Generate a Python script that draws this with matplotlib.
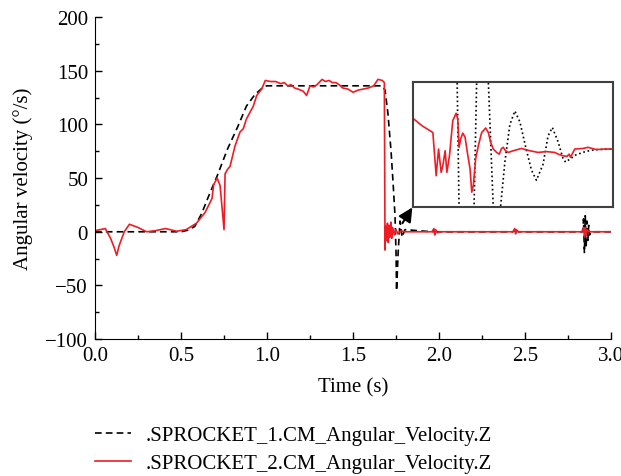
import matplotlib
matplotlib.use("Agg")
from matplotlib import pyplot as plt

plt.rcParams['font.family'] = ['Liberation Serif', 'DejaVu Serif']
plt.rcParams['font.size'] = 15

# SPROCKET_1 (dashed black)
s1_t = [0, 0.5, 0.54, 0.58, 0.62, 0.66, 0.71, 0.77, 0.83, 0.88, 0.93, 0.98, 1.0,
        1.669, 1.686, 1.703, 1.721, 1.733, 1.744, 1.750, 1.753, 1.762, 1.773, 1.785, 1.802,
        1.96, 1.97, 1.975, 1.98, 1.99, 2.43, 2.44, 2.445, 2.45, 2.46,
        2.835, 2.84, 2.845, 2.85, 2.855, 2.86, 2.865, 2.87, 2.875, 2.88, 3.0]
s1_v = [0, 0, 1.5, 5, 17, 33, 52, 77, 98, 117, 128, 135, 136,
        136, 132, 110, 75, 45, 15, -20, -55, -20, 10, -5, 2,
        0, 2, -2, 1, 0, 0, 2, -2, 1, 0,
        0, 12, -20, 15, -14, 10, -8, 6, -3, 0, 0]

# SPROCKET_2 (solid red)
s2_t = [0.0, 0.03, 0.06, 0.09, 0.11, 0.126, 0.14, 0.17, 0.20, 0.25, 0.30, 0.35, 0.41,
        0.475, 0.53, 0.59, 0.64, 0.68, 0.69, 0.71, 0.727, 0.74, 0.75, 0.756, 0.77,
        0.785, 0.814, 0.843, 0.862, 0.88, 0.92, 0.94, 0.969, 0.99, 1.02, 1.05, 1.08,
        1.10, 1.12, 1.14, 1.16, 1.18, 1.21, 1.23, 1.25, 1.27, 1.29, 1.32, 1.34, 1.36,
        1.38, 1.40, 1.42, 1.44, 1.47, 1.50, 1.53, 1.56, 1.59, 1.62, 1.645,
        1.67, 1.682, 1.686, 1.69, 1.695, 1.70, 1.705, 1.71, 1.715, 1.72, 1.725, 1.73,
        1.74, 1.75, 1.76, 1.78, 1.80, 1.96, 1.97, 1.975, 1.98, 1.99, 2.00,
        2.43, 2.44, 2.445, 2.45, 2.46, 2.83, 2.84, 2.845, 2.85, 2.855, 2.86, 2.87, 3.0]
s2_v = [1, 2, 3, -6, -14, -22, -13, 0, 7, 4, 0, 1, 3,
        0.5, 2, 8, 18, 31, 44, 50, 43, 20, 2, 54, 58,
        61, 80, 93, 96, 105, 117, 127, 133, 141, 140, 140, 138,
        139, 136, 137, 134, 133, 131, 127, 136, 135, 137, 142, 140, 141,
        139, 139, 137, 134, 133, 130, 132, 133, 134, 136, 142,
        141, 139, -17, 5, -8, 8, -10, 6, -5, 9, -6, 4,
        -3, 2, -2, 1, 0, 0, 3, -3, 2, -1, 0,
        0, 3, -2, 2, 0, 0, 4, -5, 4, -3, 2, 0, 0]

# zoomed detail shown in the inset
zoom1_t = [1.7172, 1.7242, 1.7261, 1.7298, 1.7338, 1.7388, 1.7411, 1.7437, 1.7471,
           1.7497, 1.7527, 1.7554, 1.7603, 1.7637, 1.7660, 1.7676, 1.7720, 1.7769,
           1.7819, 1.7869, 1.7935, 1.7985, 1.8035, 1.8101, 1.8151, 1.8194, 1.8251,
           1.8301, 1.8327, 1.8367, 1.8433, 1.8533, 1.8633, 1.8799]
zoom1_v = [50, 12, -10, -35, -40, -25, -10, 12, 35, 40, 30, 12, -10, -18, -15, -10,
           -2, 4.5, 6.9, 5, 0, -3.5, -5.3, -2.5, 2.5, 4.0, 1.5, -1.5, -2.1, -1.6,
           -0.8, -0.2, 0.1, 0.2]
zoom2_t = [1.6807, 1.6890, 1.6973, 1.6999, 1.7032, 1.7056, 1.7082, 1.7099, 1.7122,
           1.7139, 1.7165, 1.7198, 1.7232, 1.7248, 1.7261, 1.7278, 1.7298, 1.7321,
           1.7344, 1.7371, 1.7388, 1.7404, 1.7427, 1.7454, 1.7487, 1.7527, 1.7554,
           1.7577, 1.7603, 1.7637, 1.7663, 1.7686, 1.7703, 1.7726, 1.7753, 1.7803,
           1.7886, 1.7969, 1.8052, 1.8135, 1.8218, 1.8252, 1.8302, 1.8341, 1.8361,
           1.8375, 1.8418, 1.8501, 1.8551, 1.8634, 1.8717, 1.8800]
zoom2_v = [5.5, 4.3, 3.4, 3.1, -4.5, 0.2, -3.9, -2.7, -0.1, -3.9, -1.0, 5.2, 6.5,
           5.5, 0.5, 2.0, 3.0, 2.3, -0.4, -3.3, -7.4, -6.2, -1.5, 0.8, 3.1, 3.9, 3.1,
           1.4, 0.2, -0.4, -0.7, 0.3, 0.5, -0.1, -0.4, -0.1, 0.3, -0.1, -0.4, -0.25,
           -0.4, -0.7, -1.0, -1.1, -0.7, -1.25, 0.2, 0.3, 0.5, 0.1, 0.2, 0.2]

red = '#ee1c25'

fig = plt.figure(figsize=(6.21, 4.77), dpi=100)
ax = fig.add_axes([0.153, 0.287, 0.831, 0.675])

ax.plot(s1_t, s1_v, color='black', lw=1.2, linestyle=(0, (4, 2.5)),
        label='.SPROCKET_1.CM_Angular_Velocity.Z')
ax.plot(s2_t, s2_v, color=red, lw=1.2, label='.SPROCKET_2.CM_Angular_Velocity.Z')

ax.set_xlim(0, 3.0)
ax.set_ylim(-100, 200)
ax.set_xticks([0, 0.5, 1.0, 1.5, 2.0, 2.5, 3.0])
ax.set_xticks([0.25, 0.75, 1.25, 1.75, 2.25, 2.75], minor=True)
ax.set_yticks([-100, -50, 0, 50, 100, 150, 200])
ax.set_yticks([-75, -25, 25, 75, 125, 175], minor=True)
ax.xaxis.set_major_formatter(plt.FuncFormatter(lambda v, p: f'{v:.1f}'))
ax.yaxis.set_major_formatter(plt.FuncFormatter(lambda v, p: f'{v:.0f}'.replace('-', '\u2212')))
ax.tick_params(which='major', direction='in', length=5, width=1)
ax.tick_params(which='minor', direction='in', length=3, width=1)
ax.tick_params(axis='x', which='major', pad=5)
ax.tick_params(axis='y', which='major', pad=5)
ax.spines['top'].set_visible(False)
ax.spines['right'].set_visible(False)
ax.set_xlabel('Time (s)', labelpad=9)
ax.set_ylabel('Angular velocity (°/s)', labelpad=9)

# inset
axin = fig.add_axes([0.665, 0.564, 0.322, 0.262])
axin.plot(zoom1_t, zoom1_v, color='black', lw=1.2, linestyle=':')
axin.plot(zoom2_t, zoom2_v, color=red, lw=1.2)
axin.set_xlim(1.68, 1.88)
axin.set_ylim(-10, 12)
axin.set_xticks([])
axin.set_yticks([])
for sp in axin.spines.values():
    sp.set_color('#404040')
    sp.set_linewidth(1.5)

ax.annotate('', xy=(0.664, 0.563), xycoords='figure fraction',
            xytext=(0.648, 0.530), textcoords='figure fraction',
            arrowprops=dict(arrowstyle='-|>,head_length=0.7,head_width=0.35',
                            color='black', lw=1.5, shrinkA=0, shrinkB=0,
                            mutation_scale=12))

h, l = ax.get_legend_handles_labels()
fig.legend(h, l, loc='upper left', bbox_to_anchor=(0.137, 0.127), frameon=False,
           handlelength=1.7, handletextpad=0.7, labelspacing=0.4, borderpad=0,
           fontsize=15)

fig.savefig('out.png', dpi=100)
